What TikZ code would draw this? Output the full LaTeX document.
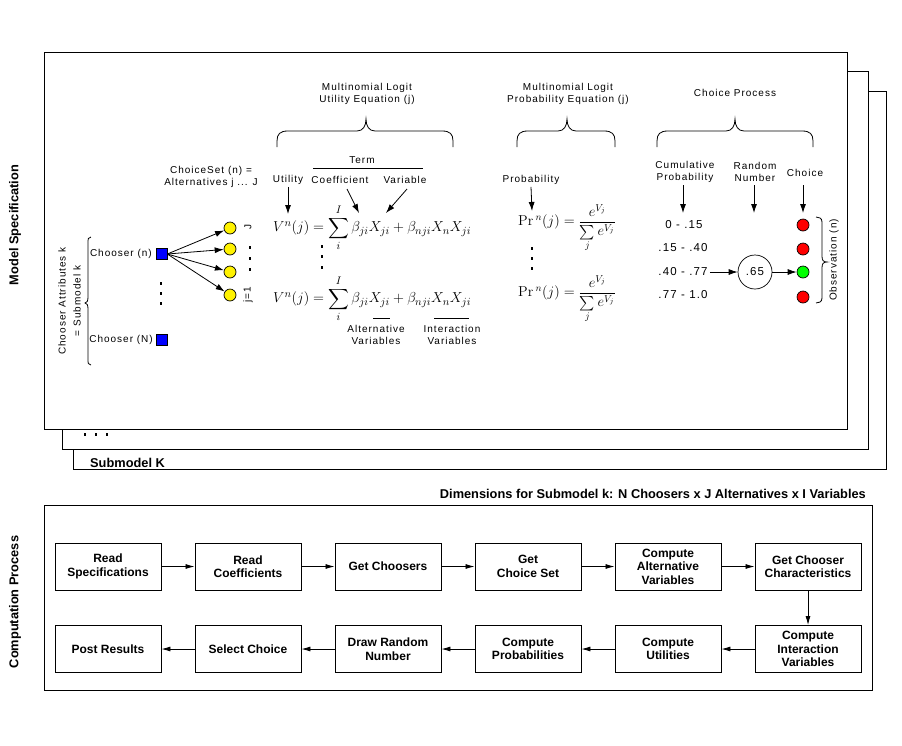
\documentclass[tikz,border=0pt]{standalone}
\usepackage{amsmath}
\usepackage[no-math]{fontspec}
\setmainfont{Liberation Sans}
\newfontfamily\lblfont[LetterSpace=10]{Liberation Sans}
\usetikzlibrary{arrows.meta}
\newcommand\sqd[2]{\fill ({#1-1.3},{#2-1.3}) rectangle ++(2.6,-2.6);}
\newcommand\hbr[3]{%
\draw[brc] (#1,147) -- (#1,141) .. controls (#1,134) and ({#1+3},131) .. ({#1+11},131) -- ({#3-9},131) .. controls ({#3-3},131) and (#3,126) .. (#3,119) .. controls (#3,126) and ({#3+3},131) .. ({#3+9},131) -- ({#2-11},131) .. controls ({#2-3},131) and (#2,134) .. (#2,141) -- (#2,147);}
\begin{document}
\begin{tikzpicture}[x=1pt,y=-1pt,
 lbl/.style={font=\lblfont\fontsize{10}{12.5}\selectfont, inner sep=0pt, align=center},
 rng/.style={font=\lblfont\fontsize{11.5}{13}\selectfont, inner sep=0pt},
 bld/.style={font=\bfseries\fontsize{12.8}{14}\selectfont, inner sep=0pt},
 sheet/.style={draw, fill=white, line width=1pt},
 procbox/.style={draw, line width=0.9pt, minimum width=106pt, minimum height=47pt, inner sep=1pt, align=center, font=\bfseries\fontsize{12}{13.5}\selectfont},
 arr/.style={-{Latex[length=9pt,width=6pt]}, line width=0.8pt},
 flow/.style={-{Latex[length=9pt,width=5pt]}, line width=0.8pt},
 ball/.style={circle, draw, line width=0.7pt, minimum size=12pt, inner sep=0pt},
 sq/.style={draw, fill=blue, minimum size=11pt, inner sep=0pt, line width=0.6pt},
 eqn/.style={font=\fontsize{15.2}{18}\selectfont, inner sep=0pt},
 peqn/.style={font=\fontsize{14.8}{18}\selectfont, inner sep=0pt},
 brc/.style={line width=0.8pt},
]
\useasboundingbox (0,0) rectangle (902,745);
% stacked sheets
\draw[sheet] (73,91) rectangle (886,469);
\draw[sheet] (62,71) rectangle (868,449);
\draw[sheet] (44,52) rectangle (847,429);
\sqd{85}{437}\sqd{96}{437}\sqd{107}{437}
\node[bld, anchor=west] (subk) at (90,463) {Submodel K};
\node[bld, rotate=90] (modspec) at (15,225) {Model Specification};
\node[bld, rotate=90] (comproc) at (15,602) {Computation Process};

% choosers
\node[lbl, rotate=90] (attr1) at (62,301) {Chooser Attributes k};
\node[lbl, rotate=90] (attr2) at (77,301) {= Submodel k};
\draw[brc] (91,237) .. controls (88,237) and (88,239) .. (88,243) -- (88,297) .. controls (88,301) and (87,303) .. (85,303) .. controls (87,303) and (88,305) .. (88,309) -- (88,359) .. controls (88,363) and (88,365) .. (91,365);
\node[lbl, anchor=east] (chn) at (152,254) {Chooser (n)};
\node[sq] (cn) at (161.5,254) {};
\sqd{161}{286}\sqd{161}{296}\sqd{161}{306}
\node[lbl, anchor=east] (chN) at (153,340) {Chooser (N)};
\node[sq] (cN) at (161.5,340) {};
\node[lbl] (cset) at (211,177) {ChoiceSet (n) =\\Alternatives j ... J};
\node[ball, fill=yellow] (y1) at (230,228) {};
\node[ball, fill=yellow] (y2) at (230,249) {};
\node[ball, fill=yellow] (y3) at (230,272) {};
\node[ball, fill=yellow] (y4) at (230,295) {};
\foreach \t in {y1,y2,y3,y4} \draw[arr] (cn.east) -- (\t);
\node[lbl, rotate=90] (jJ) at (248,227) {J};
\node[lbl, rotate=90] (j1) at (248,295) {j=1};
\sqd{250}{250}\sqd{250}{261}\sqd{250}{272}

% utility equation
\node[lbl] (mlu) at (367,94) {Multinomial Logit\\Utility Equation (j)};
\hbr{277}{453}{366}
\node[lbl] (term) at (362,160) {Term};
\draw[line width=0.8pt] (313,168) -- (423,168);
\node[lbl] (util) at (288,180) {Utility};
\node[lbl] (coef) at (340,180) {Coefficient};
\node[lbl] (var) at (405,180) {Variable};
\coordinate (ut) at (288,214);
\coordinate (ct) at (359,213);
\coordinate (vt) at (386,213);
\draw[arr] (util.south) ++(0,2) -- (ut);
\draw[arr] (347,189) -- (ct);
\draw[arr] (407,189) -- (vt);
\node[eqn, anchor=west] (eq1) at (273,228) {$\displaystyle V^{n}(j)=\sum_{i}^{I}\beta_{ji}X_{ji}+\beta_{nji}X_{n}X_{ji}$};
\sqd{322}{249}\sqd{322}{259}\sqd{322}{270}
\node[eqn, anchor=west] (eq2) at (273,299) {$\displaystyle V^{n}(j)=\sum_{i}^{I}\beta_{ji}X_{ji}+\beta_{nji}X_{n}X_{ji}$};
\draw[line width=0.8pt] (373,318) -- (390,318);
\draw[line width=0.8pt] (434,318) -- (469,318);
\node[lbl] (altv) at (376,335) {Alternative\\Variables};
\node[lbl] (intv) at (452,335) {Interaction\\Variables};

% probability equation
\node[lbl] (mlp) at (568,94) {Multinomial Logit\\Probability Equation (j)};
\hbr{517}{615}{567}
\node[lbl] (prob) at (531,180) {Probability};
\coordinate (pt) at (532,211);
\draw[arr] (prob.south) ++(0,2) -- (pt);
\node[peqn, anchor=west] (pe1) at (518,228) {$\displaystyle \Pr{}^{n}(j)=\frac{e^{V_j}}{\sum\limits_{j} e^{V_j}}$};
\sqd{532}{251}\sqd{532}{261}\sqd{532}{271}
\node[peqn, anchor=west] (pe2) at (518,299) {$\displaystyle \Pr{}^{n}(j)=\frac{e^{V_j}}{\sum\limits_{j} e^{V_j}}$};

% choice process
\node[lbl] (cp) at (735,93) {Choice Process};
\hbr{657}{813}{735}
\node[lbl] (cum) at (685,172) {Cumulative\\Probability};
\node[lbl] (rnd) at (755,172) {Random\\Number};
\node[lbl] (cho) at (805,173) {Choice};
\coordinate (cumt) at (683,213);
\coordinate (rndt) at (754,213);
\coordinate (chot) at (803,213);
\draw[arr] (683,185) -- (cumt);
\draw[arr] (754,185) -- (rndt);
\draw[arr] (803,185) -- (chot);
\node[rng] (r1) at (684,225) {0 - .15};
\node[rng] (r2) at (683,248) {.15 - .40};
\node[rng] (r3) at (683,272) {.40 - .77};
\node[rng] (r4) at (683,295) {.77 - 1.0};
\node[circle, draw, line width=0.7pt, minimum size=34pt, inner sep=0pt, font=\lblfont\fontsize{11.5}{13}\selectfont] (r65) at (755,272) {.65};
\node[ball, fill=red] (c1) at (803,225) {};
\node[ball, fill=red] (c2) at (803,249) {};
\node[ball, fill=green] (c3) at (803,272) {};
\node[ball, fill=red] (c4) at (803,297) {};
\draw[arr] (r3.east) ++(2,0) -- (r65);
\draw[arr] (r65) -- (c3);
\draw[brc] (816,217) .. controls (819,217) and (822,218) .. (822,222) -- (822,256) .. controls (822,260) and (823,262) .. (827,262) .. controls (823,262) and (822,264) .. (822,268) -- (822,298) .. controls (822,302) and (819,303) .. (816,303);
\node[lbl, rotate=90] (obs) at (834,260) {Observation (n)};

% computation process
\node[bld, anchor=east] (dims) at (866,494) {Dimensions for Submodel k: N Choosers x J Alternatives x I Variables};
\draw[line width=1pt] (44,505) rectangle (872,690);
\node[procbox] (b1) at (108,566.5) {Read\\Specifications};
\node[procbox] (b2) at (248,566.5) {Read\\Coefficients};
\node[procbox] (b3) at (388,566.5) {Get Choosers};
\node[procbox] (b4) at (528,566.5) {Get\\Choice Set};
\node[procbox] (b5) at (668,566.5) {Compute\\Alternative\\Variables};
\node[procbox] (b6) at (808,566.5) {Get Chooser\\Characteristics};
\node[procbox] (b7) at (808,649) {Compute\\Interaction\\Variables};
\node[procbox] (b8) at (668,649) {Compute\\Utilities};
\node[procbox] (b9) at (528,649) {Compute\\Probabilities};
\node[procbox] (b10) at (388,649) {Draw Random\\Number};
\node[procbox] (b11) at (248,649) {Select Choice};
\node[procbox] (b12) at (108,649) {Post Results};
\foreach \a/\b in {b1/b2,b2/b3,b3/b4,b4/b5,b5/b6,b6/b7,b7/b8,b8/b9,b9/b10,b10/b11,b11/b12}
  \draw[flow] (\a) -- (\b);
\end{tikzpicture}
\end{document}
